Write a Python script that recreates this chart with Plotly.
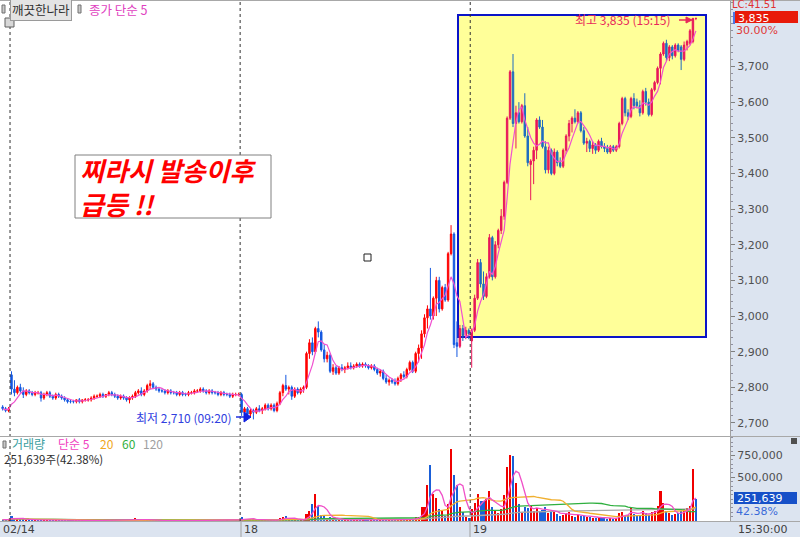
import plotly.graph_objects as go
import pandas as pd

# ---------------- data ----------------
prev_ohlc = [(2745, 2750, 2735, 2740), (2740, 2745, 2730, 2735), (2735, 2745, 2730, 2740)]

d14_ohlc = [
    (2835, 2845, 2780, 2795), (2795, 2820, 2775, 2785), (2785, 2805, 2780, 2800), (2800, 2810, 2785, 2790),
    (2790, 2800, 2770, 2780), (2780, 2795, 2775, 2790), (2790, 2795, 2780, 2785), (2785, 2790, 2775, 2780),
    (2780, 2790, 2775, 2785), (2785, 2790, 2780, 2785), (2785, 2790, 2760, 2770), (2770, 2785, 2765, 2780),
    (2780, 2790, 2775, 2785), (2785, 2790, 2770, 2775), (2775, 2780, 2765, 2770), (2770, 2785, 2765, 2780),
    (2780, 2785, 2770, 2775), (2775, 2780, 2765, 2770), (2770, 2775, 2760, 2765), (2765, 2770, 2755, 2760),
    (2760, 2765, 2755, 2760), (2760, 2765, 2755, 2760), (2760, 2765, 2755, 2765), (2765, 2770, 2755, 2760),
    (2760, 2765, 2755, 2765), (2765, 2770, 2760, 2765), (2765, 2770, 2760, 2765), (2765, 2775, 2760, 2770),
    (2770, 2780, 2765, 2775), (2775, 2780, 2770, 2775), (2775, 2785, 2770, 2780), (2780, 2785, 2770, 2775),
    (2775, 2780, 2770, 2780), (2780, 2790, 2775, 2785), (2785, 2790, 2775, 2780), (2780, 2785, 2770, 2775),
    (2775, 2780, 2765, 2770), (2770, 2780, 2765, 2775), (2775, 2780, 2765, 2770), (2770, 2775, 2760, 2765),
    (2765, 2775, 2755, 2770), (2770, 2780, 2765, 2775), (2775, 2790, 2770, 2785), (2785, 2795, 2780, 2790),
    (2790, 2800, 2775, 2780), (2780, 2795, 2775, 2790), (2790, 2810, 2785, 2805), (2805, 2820, 2795, 2810),
    (2810, 2815, 2795, 2800), (2800, 2805, 2790, 2795), (2795, 2800, 2785, 2790), (2790, 2795, 2785, 2790),
    (2790, 2795, 2780, 2785), (2785, 2795, 2780, 2790), (2790, 2795, 2780, 2785), (2785, 2790, 2780, 2785),
    (2785, 2790, 2775, 2780), (2780, 2790, 2775, 2785), (2785, 2790, 2775, 2780), (2780, 2785, 2775, 2780),
    (2780, 2790, 2775, 2785), (2785, 2790, 2780, 2785), (2785, 2795, 2780, 2790), (2790, 2795, 2785, 2790),
    (2790, 2800, 2785, 2795), (2795, 2800, 2785, 2790), (2790, 2795, 2780, 2785), (2785, 2795, 2780, 2790),
    (2790, 2795, 2780, 2785), (2785, 2790, 2780, 2785), (2785, 2790, 2775, 2780), (2780, 2790, 2775, 2785),
    (2785, 2790, 2775, 2780), (2780, 2785, 2775, 2780), (2780, 2785, 2770, 2775), (2775, 2785, 2770, 2780),
    (2780, 2785, 2775, 2780), (2780, 2785, 2775, 2780),
]

d18_ohlc = [
    (2780, 2785, 2720, 2730), (2730, 2745, 2720, 2740), (2740, 2745, 2720, 2725), (2725, 2740, 2715, 2735),
    (2735, 2740, 2710, 2730), (2730, 2745, 2725, 2740), (2740, 2750, 2730, 2735), (2735, 2745, 2725, 2740),
    (2740, 2755, 2735, 2750), (2750, 2755, 2735, 2740), (2740, 2755, 2735, 2750), (2750, 2755, 2730, 2735),
    (2735, 2760, 2730, 2755), (2755, 2790, 2750, 2785), (2785, 2810, 2775, 2805), (2805, 2835, 2790, 2795),
    (2795, 2805, 2780, 2800), (2800, 2805, 2765, 2775), (2775, 2800, 2770, 2795), (2795, 2800, 2780, 2785),
    (2785, 2800, 2780, 2795), (2795, 2805, 2785, 2800), (2800, 2900, 2795, 2895), (2895, 2935, 2880, 2925),
    (2925, 2940, 2890, 2900), (2900, 2970, 2895, 2965), (2965, 2985, 2940, 2955), (2955, 2960, 2900, 2905),
    (2905, 2920, 2870, 2880), (2880, 2900, 2870, 2890), (2890, 2895, 2840, 2845), (2845, 2865, 2835, 2855),
    (2855, 2860, 2835, 2840), (2840, 2860, 2835, 2855), (2855, 2865, 2845, 2850), (2850, 2860, 2840, 2855),
    (2855, 2870, 2850, 2860), (2860, 2870, 2850, 2855), (2855, 2865, 2850, 2860), (2860, 2870, 2855, 2865),
    (2865, 2870, 2855, 2860), (2860, 2870, 2855, 2865), (2865, 2870, 2855, 2860), (2860, 2865, 2850, 2855),
    (2855, 2865, 2850, 2860), (2860, 2865, 2845, 2850), (2850, 2855, 2835, 2840), (2840, 2850, 2830, 2845),
    (2845, 2850, 2820, 2825), (2825, 2835, 2810, 2815), (2815, 2825, 2805, 2820), (2820, 2825, 2810, 2815),
    (2815, 2825, 2805, 2810), (2810, 2830, 2805, 2825), (2825, 2840, 2815, 2835), (2835, 2845, 2825, 2830),
    (2830, 2855, 2825, 2850), (2850, 2875, 2845, 2870), (2870, 2875, 2840, 2845), (2845, 2900, 2840, 2895),
    (2895, 2920, 2870, 2910), (2910, 2960, 2880, 2950), (2950, 3005, 2940, 2995), (2995, 3030, 2965, 3020),
    (3020, 3135, 2990, 3000), (3000, 3055, 2990, 3050), (3050, 3110, 3000, 3100), (3100, 3110, 3010, 3020),
    (3020, 3085, 3015, 3080), (3080, 3090, 3040, 3045), (3045, 3180, 3040, 3175), (3175, 3255, 3170, 3230),
    (3230, 3235, 2910, 2920), (2925, 2985, 2885, 2915), (2915, 2975, 2910, 2965), (2965, 2975, 2930, 2945),
    (2945, 2970, 2935, 2960), (2960, 2965, 2935, 2950),
]

d19_ohlc = [
    (2930, 2965, 2855, 2960), (2960, 3060, 2955, 3050), (3050, 3160, 3045, 3150), (3150, 3160, 3080, 3090),
    (3090, 3125, 3045, 3055), (3055, 3120, 3050, 3110), (3110, 3230, 3105, 3220), (3220, 3225, 3100, 3110),
    (3110, 3210, 3105, 3200), (3200, 3245, 3190, 3240), (3240, 3300, 3230, 3280), (3280, 3380, 3270, 3375),
    (3375, 3560, 3370, 3555), (3555, 3690, 3550, 3685), (3685, 3735, 3530, 3540), (3540, 3590, 3470, 3570),
    (3570, 3600, 3540, 3545), (3545, 3595, 3540, 3590), (3590, 3625, 3500, 3505), (3505, 3530, 3420, 3430),
    (3425, 3440, 3325, 3435), (3435, 3475, 3370, 3465), (3465, 3555, 3440, 3550), (3550, 3560, 3525, 3530),
    (3530, 3550, 3470, 3475), (3475, 3490, 3400, 3410), (3410, 3475, 3400, 3465), (3465, 3470, 3395, 3400),
    (3400, 3470, 3395, 3460), (3460, 3465, 3420, 3430), (3430, 3445, 3415, 3420), (3420, 3470, 3415, 3465),
    (3465, 3510, 3455, 3505), (3505, 3550, 3490, 3540), (3540, 3560, 3515, 3555), (3555, 3580, 3540, 3545),
    (3545, 3575, 3540, 3570), (3570, 3575, 3515, 3520), (3520, 3530, 3480, 3485), (3485, 3500, 3460, 3490),
    (3490, 3495, 3460, 3470), (3470, 3490, 3455, 3480), (3480, 3485, 3455, 3465), (3465, 3495, 3460, 3490),
    (3490, 3500, 3470, 3475), (3475, 3485, 3460, 3470), (3470, 3480, 3455, 3460), (3460, 3480, 3455, 3475),
    (3475, 3480, 3460, 3465), (3465, 3480, 3460, 3475), (3475, 3545, 3470, 3540), (3540, 3615, 3535, 3610),
    (3610, 3615, 3560, 3570), (3570, 3580, 3550, 3560), (3560, 3615, 3555, 3610), (3610, 3625, 3580, 3590),
    (3600, 3610, 3585, 3590), (3590, 3605, 3560, 3570), (3570, 3635, 3565, 3630), (3630, 3640, 3590, 3600),
    (3600, 3610, 3560, 3565), (3565, 3640, 3560, 3635), (3635, 3660, 3630, 3655), (3655, 3700, 3650, 3695),
    (3695, 3740, 3650, 3735), (3735, 3770, 3730, 3765), (3765, 3775, 3715, 3725), (3725, 3760, 3715, 3755),
    (3755, 3760, 3720, 3730), (3730, 3765, 3725, 3760), (3760, 3765, 3740, 3745), (3755, 3760, 3690, 3720),
    (3720, 3770, 3715, 3760), (3760, 3775, 3745, 3770), (3765, 3805, 3760, 3800), (3770, 3835, 3765, 3835),
    (3835, 3835, 3830, 3835),
]

prev_vol = [15000, 12000, 20000]
d14_vol = [
    55000, 30000, 25000, 20000, 18000, 15000, 12000, 14000, 10000, 12000,
    20000, 15000, 12000, 10000, 9000, 12000, 8000, 10000, 9000, 8000,
    7000, 6000, 8000, 7000, 6000, 5000, 6000, 7000, 8000, 6000,
    9000, 7000, 6000, 8000, 7000, 6000, 5000, 6000, 7000, 5000,
    8000, 9000, 30000, 12000, 14000, 10000, 15000, 12000, 8000, 7000,
    6000, 5000, 6000, 7000, 5000, 6000, 5000, 4000, 6000, 5000,
    4000, 5000, 6000, 5000, 4000, 5000, 4000, 5000, 6000, 4000,
    5000, 4000, 5000, 6000, 4000, 5000, 6000, 12000,
]
d18_vol = [
    45000, 25000, 20000, 18000, 22000, 12000, 10000, 9000, 12000, 8000,
    10000, 8000, 15000, 30000, 45000, 55000, 25000, 20000, 15000, 10000,
    12000, 15000, 85000, 120000, 200000, 305000, 175000, 65000, 55000, 35000,
    45000, 25000, 20000, 15000, 12000, 10000, 15000, 10000, 12000, 15000,
    10000, 12000, 10000, 8000, 10000, 8000, 12000, 10000, 15000, 20000,
    12000, 10000, 12000, 15000, 20000, 12000, 15000, 25000, 20000, 45000,
    45000, 155000, 155000, 415000, 635000, 305000, 265000, 140000, 120000, 60000,
    200000, 825000, 525000, 415000, 155000, 100000, 45000, 30000,
]
d19_vol = [
    140000, 210000, 305000, 230000, 230000, 250000, 340000, 155000, 120000, 90000,
    140000, 300000, 615000, 760000, 745000, 430000, 195000, 100000, 160000, 150000,
    170000, 120000, 150000, 110000, 130000, 160000, 90000, 120000, 100000, 80000,
    60000, 70000, 90000, 100000, 60000, 50000, 70000, 55000, 60000, 45000,
    50000, 35000, 40000, 45000, 30000, 35000, 25000, 30000, 25000, 30000,
    90000, 100000, 60000, 70000, 165000, 80000, 60000, 70000, 110000, 90000,
    70000, 100000, 120000, 175000, 340000, 210000, 120000, 90000, 70000, 80000,
    90000, 110000, 140000, 150000, 175000, 593770, 251639,
]

day_labels = ["02/14", "18", "19"]
price_tick_vals = [2700, 2800, 2900, 3000, 3100, 3200, 3300, 3400, 3500, 3600, 3700]
vol_tick_vals = [500000, 750000]

# ---------------- assemble ----------------
assert len(d14_ohlc) == 78 and len(d18_ohlc) == 78 and len(d19_ohlc) == 77
assert len(d14_vol) == 78 and len(d18_vol) == 78 and len(d19_vol) == 77

SLOTS = 78
ohlc = prev_ohlc + d14_ohlc + d18_ohlc + d19_ohlc
vols = prev_vol + d14_vol + d18_vol + d19_vol
xs = ([k - len(prev_ohlc) for k in range(len(prev_ohlc))]
      + [k for k in range(len(d14_ohlc))]
      + [SLOTS + k for k in range(len(d18_ohlc))]
      + [2 * SLOTS + k for k in range(len(d19_ohlc))])

df = pd.DataFrame(ohlc, columns=["o", "h", "l", "c"])
df["x"] = xs
df["v"] = vols
df["ma5"] = df["c"].rolling(5, min_periods=1).mean()
for n in (5, 20, 60, 120):
    df[f"vma{n}"] = df["v"].rolling(n, min_periods=1).mean()

# pixel geometry
W, H = 730.0, 521.0
X0PX, STEP = 11.5, 2.95


def px2x(px):
    return (px - X0PX) / STEP


def PX(px):
    return px / W


def PY(py):
    return 1 - py / H


P_TOP, P_PER = 3886.5, 0.3565   # price at top pixel, px per won


def py2price(py):
    return P_TOP - py / P_PER


RED, BLUE = "#FF0000", "#1458E0"
RED2, BLUE2 = "#E8175A", "#1E6CC0"
KR = "Noto Sans CJK KR, DejaVu Sans, sans-serif"
NUM = "DejaVu Sans, Noto Sans CJK KR, sans-serif"

box_x0, box_x1 = px2x(458), px2x(706)
box_y0, box_y1 = py2price(337), py2price(15)

fig = go.Figure()

inside = df["x"] >= 152
for mask, inc, dec in ((~inside, RED, BLUE), (inside, RED2, BLUE2)):
    sub = df[mask]
    fig.add_trace(go.Candlestick(
        x=sub["x"], open=sub["o"], high=sub["h"], low=sub["l"], close=sub["c"],
        increasing=dict(line=dict(color=inc, width=1), fillcolor=inc),
        decreasing=dict(line=dict(color=dec, width=1), fillcolor=dec),
        whiskerwidth=0, hoverinfo="skip", xaxis="x", yaxis="y", showlegend=False))

fig.add_trace(go.Scatter(x=df["x"], y=df["ma5"], mode="lines",
                         line=dict(color="#F050D0", width=1.2), yaxis="y", hoverinfo="skip",
                         showlegend=False))

vol_colors = ["#F00000" if c > o else "#1A5FD8" for o, c in zip(df["o"], df["c"])]
fig.add_trace(go.Bar(x=df["x"], y=df["v"], marker=dict(color=vol_colors, line=dict(width=0)),
                     width=0.7, yaxis="y2", hoverinfo="skip", showlegend=False))
for n, col in ((120, "#A8A8A8"), (60, "#30B040"), (20, "#F0B030"), (5, "#F050C8")):
    fig.add_trace(go.Scatter(x=df["x"], y=df[f"vma{n}"], mode="lines",
                             line=dict(color=col, width=1.3), yaxis="y2", hoverinfo="skip",
                             showlegend=False))

shapes = []
annos = []


def prect(x0, y0, x1, y1, fill=None, line=None, lw=1, layer="above"):
    shapes.append(dict(type="rect", xref="paper", yref="paper", x0=PX(x0), x1=PX(x1),
                       y0=PY(y1), y1=PY(y0), fillcolor=fill or "rgba(0,0,0,0)",
                       line=dict(color=line or "rgba(0,0,0,0)", width=lw if line else 0),
                       layer=layer))


def pline(x0, y0, x1, y1, color, w=1, dash="solid", layer="above"):
    shapes.append(dict(type="line", xref="paper", yref="paper", x0=PX(x0), x1=PX(x1),
                       y0=PY(y0), y1=PY(y1), line=dict(color=color, width=w, dash=dash),
                       layer=layer))


def txt(px, py, text, color, size, family=KR, xanchor="left", **kw):
    kw.setdefault("borderpad", 0)
    annos.append(dict(xref="paper", yref="paper", x=PX(px), y=PY(py), text=text,
                      showarrow=False, xanchor=xanchor, yanchor="middle",
                      font=dict(color=color, size=size, family=family), **kw))


# backgrounds of axis strips
prect(730, 0, 800, 537, fill="#DCE4F0", layer="below")
prect(0, 521, 730, 537, fill="#DCE4F0", layer="below")

# yellow highlight box
shapes.append(dict(type="rect", xref="x", yref="y", x0=box_x0, x1=box_x1, y0=box_y0, y1=box_y1,
                   fillcolor="#FFFF99", line=dict(color="#0A14C8", width=2), layer="below"))

# day separator dotted lines
for b in (-0.5, SLOTS - 0.5, 2 * SLOTS - 0.5):
    shapes.append(dict(type="line", xref="x", yref="paper", x0=b, x1=b, y0=0, y1=1,
                       line=dict(color="#303030", width=1, dash="dot"), layer="above"))
for bpx in (241, 470):
    pline(bpx, 521, bpx, 537, "#A0A0A0")

# frame lines
pline(0, 0.5, 800, 0.5, "#A8A8A8")
pline(0, 436.5, 800, 436.5, "#A8A8A8")
pline(0, 521.5, 800, 521.5, "#A8A8A8")

# top-left header
prect(2, 5, 5, 13, fill="#C8C8C8", line="#707070")
txt(10, 9, "깨끗한나라", "#303030", 12.5, bgcolor="#E4E4E4", bordercolor="#9A9A9A",
    borderwidth=1, borderpad=1)
prect(78, 5, 81, 13, fill="#C8C8C8", line="#707070")
txt(88, 9, "종가 단순 5", "#E040C0", 12.5)
prect(5, 18, 14, 27, fill="#D8D8D8", line="#606060")

# volume header
prect(3, 441, 6, 448, fill="#C8C8C8", line="#707070")
txt(11, 443.5, "거래량", "#3AA0A0", 12)
txt(57, 443.5, "단순 5", "#F040C0", 12)
txt(99, 443.5, "20", "#F0A820", 12)
txt(121, 443.5, "60", "#30B040", 12)
txt(142, 443.5, "120", "#A0A0A0", 12)
txt(3, 458.5, "251,639주(42.38%)", "#303030", 11.5)

# big comment box
prect(75, 155, 271, 218, fill="white", line="#808080")
txt(79, 186.5, "<b><i>찌라시 발송이후<br>급등 !!</i></b>", "#FF0000", 26, align="left")

# small marker square
prect(364, 254, 371, 261, fill="white", line="#202020")

# lowest price note
txt(135, 417, "최저 2,710 (09:20)", "#3040E0", 12)
pline(236, 417, 245, 417, "#2030E0", 1.5)
shapes.append(dict(type="path", xref="paper", yref="paper",
                   path=f"M {PX(244)},{PY(412)} L {PX(251)},{PY(417)} L {PX(244)},{PY(422)} Z",
                   fillcolor="#1020E0", line=dict(color="#1020E0", width=1)))

# highest price note
txt(574, 20, "최고 3,835 (15:15)", "#E8285A", 12)
pline(679, 20, 691, 20, "#E8285A", 1.5)
shapes.append(dict(type="path", xref="paper", yref="paper",
                   path=f"M {PX(686)},{PY(17)} L {PX(692)},{PY(20)} L {PX(686)},{PY(23)} Z",
                   fillcolor="#E8285A", line=dict(color="#E8285A", width=1)))

# right axis labels
txt(731, 4.5, "LC:41.51", "#E03030", 10, family=NUM, height=11)
pline(734, 12, 734, 24, "#2050E0", 1.5)
prect(735, 11, 798, 23, fill="#E81A0A")
txt(737, 17.5, "3,835", "white", 11, family=NUM, height=12)
txt(735, 29.5, "30.00%", "#E03838", 11, family=NUM, height=12)
prect(734, 492, 797, 504, fill="#1650C8")
txt(736, 498, "251,639", "white", 11, family=NUM, height=12)
txt(735, 510.5, "42.38%", "#3A6AD8", 11, family=NUM, height=12)
prect(791, 438, 797, 444, fill="#505050")
txt(737, 529, "15:30:00", "#404040", 11, family=NUM)

# date labels
for lab, lpx in zip(day_labels, (2, 243, 472)):
    txt(lpx, 529, lab, "#404040", 11, family=NUM)

fig.update_layout(
    width=800, height=537, autosize=False,
    margin=dict(l=0, r=70, t=0, b=16, pad=0),
    paper_bgcolor="white", plot_bgcolor="white",
    showlegend=False, bargap=0,
    xaxis=dict(range=[px2x(0), px2x(730)], domain=[0, 1], anchor="y2",
               showticklabels=False, showgrid=False, zeroline=False, showline=False,
               ticks="", rangeslider=dict(visible=False), fixedrange=True),
    yaxis=dict(domain=[1 - 436 / H, 1], range=[py2price(436), P_TOP], side="right", anchor="x",
               tickmode="array", tickvals=price_tick_vals,
               ticktext=[f"{v:,}" for v in price_tick_vals],
               ticks="outside", ticklen=4, tickcolor="#808080",
               tickfont=dict(family=NUM, size=11, color="#505050"),
               showgrid=False, zeroline=False, showline=True, linecolor="#A0A0A0", linewidth=1,
               minor=dict(tickmode="linear", tick0=2700, dtick=20, ticks="outside", ticklen=2,
                          tickcolor="#9090A0", showgrid=False),
               fixedrange=True),
    yaxis2=dict(domain=[0, 84 / H], range=[0, 960000], side="right", anchor="x",
                tickmode="array", tickvals=vol_tick_vals,
                ticktext=[f"{v:,}" for v in vol_tick_vals],
                ticks="outside", ticklen=4, tickcolor="#808080",
                tickfont=dict(family=NUM, size=11, color="#505050"),
                showgrid=False, zeroline=False, showline=True, linecolor="#A0A0A0", linewidth=1,
                minor=dict(tickmode="linear", tick0=0, dtick=50000, ticks="outside", ticklen=2,
                           tickcolor="#9090A0", showgrid=False),
                fixedrange=True),
    shapes=shapes, annotations=annos,
)

fig.write_html("out.html", config={"displayModeBar": False, "staticPlot": True},
               post_script="document.body.style.margin='0';document.body.style.overflow='hidden';")
